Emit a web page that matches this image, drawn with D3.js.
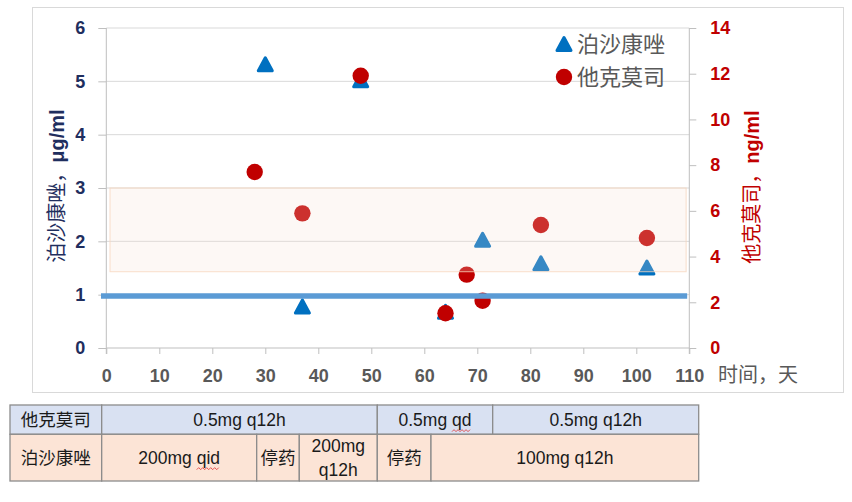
<!DOCTYPE html>
<html><head><meta charset="utf-8">
<script src="https://cdn.jsdelivr.net/npm/d3@7"></script>
<style>
html,body{margin:0;padding:0;background:#fff;}
svg{display:block;}
</style></head>
<body>
<svg id="chart" width="852" height="502"></svg>
<script>
// ---------- data ----------
const posDays = [30, 37, 48, 64, 71, 82, 102];
const posValues = [5.32, 0.78, 5.02, 0.68, 2.03, 1.59, 1.51];          // μg/ml (left axis)
const tacDays = [28, 37, 48, 64, 68, 71, 82, 102];
const tacValues = [7.7, 5.89, 11.91, 1.52, 3.21, 2.07, 5.38, 4.81];    // ng/ml (right axis)
const xTicks = [0, 10, 20, 30, 40, 50, 60, 70, 80, 90, 100, 110];
const leftTicks = [0, 1, 2, 3, 4, 5, 6];
const rightTicks = [0, 2, 4, 6, 8, 10, 12, 14];
const targetBand = [1.43, 3.0];          // shaded range, left axis
const bandDays = [0.7, 109.4];
const refLine = 0.975;                  // blue line, left axis
const refLineDays = [-1, 109.6];
const seriesNames = ["泊沙康唑", "他克莫司"];
const xTitle = "时间，天";
const leftTitle = ["泊沙康唑，", "μg/ml"];
const rightTitle = ["他克莫司，", "ng/ml"];
const tableRowLabels = ["他克莫司", "泊沙康唑"];
const tacRegimens = ["0.5mg q12h", "0.5mg qd", "0.5mg q12h"];
const posRegimens = ["200mg qid", "停药", "200mg\nq12h", "停药", "100mg q12h"];
const squiggleWords = {"0.5mg qd": "qd", "200mg qid": "qid"};

// ---------- layout ----------
const svg = d3.select("#chart");
const X0 = 106.3, X1 = 689.3, Y0 = 348, Y1 = 28;
const x = d3.scaleLinear().domain([0, 110]).range([X0, X1]);
const yL = d3.scaleLinear().domain([0, 6]).range([Y0, Y1]);
const yR = d3.scaleLinear().domain([0, 14]).range([Y0, Y1]);
const BLUE = "#0070c0", RED = "#c00000", NAVY = "#1f2e5e", GRAY = "#595959";
const CJK = "'Noto Sans CJK SC', 'Noto Sans', sans-serif";
const NUM = "'Liberation Sans', Arial, sans-serif";

// outer frame
svg.append("rect").attr("x", 32.5).attr("y", 7.5).attr("width", 811).attr("height", 385)
  .attr("fill", "none").attr("stroke", "#d9d9d9").attr("stroke-width", 1);

// gridlines
svg.append("g").selectAll("line").data(leftTicks.filter(d => d > 0)).join("line")
  .attr("x1", X0).attr("x2", X1).attr("y1", d => yL(d)).attr("y2", d => yL(d))
  .attr("stroke", "#d9d9d9").attr("stroke-width", 1);

// axes
function styleAxis(g, color, size) {
  g.select(".domain").remove();
  g.selectAll(".tick line").attr("stroke", "#bfbfbf").attr("stroke-width", 1);
  g.selectAll(".tick text").attr("fill", color).attr("font-family", NUM)
    .attr("font-weight", "bold").attr("font-size", size);
}
const gx = svg.append("g").attr("transform", `translate(0,${Y0})`)
  .call(d3.axisBottom(x).tickValues(xTicks).tickSize(6).tickPadding(15).tickFormat(d3.format("d")));
styleAxis(gx, GRAY, 18);
const gl = svg.append("g").attr("transform", `translate(${X0},0)`)
  .call(d3.axisLeft(yL).tickValues(leftTicks).tickSize(8).tickPadding(13).tickFormat(d3.format("d")));
styleAxis(gl, NAVY, 18);
const gr = svg.append("g").attr("transform", `translate(${X1},0)`)
  .call(d3.axisRight(yR).tickValues(rightTicks).tickSize(7).tickPadding(14).tickFormat(d3.format("d")));
styleAxis(gr, RED, 18);
// axis lines
svg.append("line").attr("x1", X0).attr("x2", X1).attr("y1", Y0).attr("y2", Y0).attr("stroke", "#bfbfbf");
svg.append("line").attr("x1", X0).attr("x2", X0).attr("y1", Y1).attr("y2", Y0 + 6).attr("stroke", "#bfbfbf");
svg.append("line").attr("x1", X1).attr("x2", X1).attr("y1", Y1).attr("y2", Y0 + 6).attr("stroke", "#bfbfbf");

// axis titles
svg.append("text").attr("x", 718).attr("y", 382).attr("font-family", CJK).attr("font-size", 20)
  .attr("fill", GRAY).text(xTitle);
function vTitle(cx, cy, parts, color) {
  const t = svg.append("text").attr("transform", `translate(${cx},${cy}) rotate(-90)`)
    .attr("text-anchor", "middle").attr("dy", "0.35em").attr("fill", color).attr("font-size", 20);
  t.append("tspan").attr("font-family", CJK).text(parts[0]);
  t.append("tspan").attr("font-family", NUM).attr("font-weight", "bold").text(parts[1]);
}
vTitle(57, 186, leftTitle, NAVY);
vTitle(752, 187, rightTitle, RED);

// markers
const triPath = (w, h) => `M0,${-h / 2}L${w / 2},${h / 2}L${-w / 2},${h / 2}Z`;
const posData = posDays.map((d, i) => ({d, v: posValues[i]}));
const tacData = tacDays.map((d, i) => ({d, v: tacValues[i]}));
svg.append("g").selectAll("path").data(posData).join("path")
  .attr("d", triPath(14, 13))
  .attr("transform", d => `translate(${x(d.d)},${yL(d.v)})`)
  .attr("fill", BLUE).attr("stroke", BLUE).attr("stroke-width", 3).attr("stroke-linejoin", "round");
svg.append("g").selectAll("circle").data(tacData).join("circle")
  .attr("cx", d => x(d.d)).attr("cy", d => yR(d.v)).attr("r", 8.2).attr("fill", RED);

// target band (semi-transparent overlay)
svg.append("rect")
  .attr("x", x(bandDays[0])).attr("width", x(bandDays[1]) - x(bandDays[0]))
  .attr("y", yL(targetBand[1])).attr("height", yL(targetBand[0]) - yL(targetBand[1]))
  .attr("fill", "rgb(246,222,208)").attr("fill-opacity", 0.22)
  .attr("stroke", "rgb(247,214,190)").attr("stroke-opacity", 0.8).attr("stroke-width", 1);

// reference line
svg.append("line").attr("x1", x(refLineDays[0])).attr("x2", x(refLineDays[1]))
  .attr("y1", yL(refLine)).attr("y2", yL(refLine))
  .attr("stroke", "#5b9bd5").attr("stroke-width", 5.5);

// legend
const lg = svg.append("g");
lg.append("path").attr("d", triPath(14, 13)).attr("transform", "translate(564,44)")
  .attr("fill", BLUE).attr("stroke", BLUE).attr("stroke-width", 3).attr("stroke-linejoin", "round");
lg.append("circle").attr("cx", 564).attr("cy", 77).attr("r", 8.2).attr("fill", RED);
lg.selectAll("text").data(seriesNames).join("text")
  .attr("x", 577).attr("y", (d, i) => 44 + i * 33).attr("dy", "0.36em")
  .attr("font-family", CJK).attr("font-size", 22).attr("fill", GRAY).text(d => d);

// ---------- regimen table ----------
const TX = [10, 101.7, 256.7, 299.3, 377.3, 431, 492.7, 698.7];
const TY = [405, 434.3, 481];
const row1Edges = [[TX[0], TX[1]], [TX[1], TX[4]], [TX[4], TX[6]], [TX[6], TX[7]]];
const row2Edges = [[TX[0], TX[1]], [TX[1], TX[2]], [TX[2], TX[3]], [TX[3], TX[4]], [TX[4], TX[5]], [TX[5], TX[7]]];
const rows = [
  {cells: [tableRowLabels[0], ...tacRegimens], edges: row1Edges, y0: TY[0], y1: TY[1], fill: "#d9e1f2"},
  {cells: [tableRowLabels[1], ...posRegimens], edges: row2Edges, y0: TY[1], y1: TY[2], fill: "#fce4d6"}
];
const tg = svg.append("g");
rows.forEach(r => {
  r.cells.forEach((txt, i) => {
    const [a, b] = r.edges[i];
    tg.append("rect").attr("x", a).attr("y", r.y0).attr("width", b - a).attr("height", r.y1 - r.y0)
      .attr("fill", r.fill).attr("stroke", "#8c8c8c").attr("stroke-width", 1.3);
    const lines = txt.split("\n");
    const cx = (a + b) / 2, cy = (r.y0 + r.y1) / 2;
    const lh = 24;
    lines.forEach((ln, j) => {
      const t = tg.append("text").attr("x", cx).attr("y", cy + (j - (lines.length - 1) / 2) * lh)
        .attr("dy", "0.36em").attr("text-anchor", "middle")
        .attr("font-family", /[\u4e00-\u9fff]/.test(ln) ? CJK : NUM)
        .attr("font-size", 17.5).attr("fill", "#1a1a1a").text(ln);
      const w = squiggleWords[ln];
      if (w) {
        const node = t.node();
        const start = ln.indexOf(w);
        const total = node.getComputedTextLength();
        const pre = node.getSubStringLength(0, start);
        const len = node.getSubStringLength(start, w.length);
        const sx = cx - total / 2 + pre, sy = cy + 11;
        const pts = d3.range(0, Math.floor(len / 2) + 1).map(k => [sx + k * 2, sy + (k % 2 ? -1 : 1)]);
        tg.append("path").attr("d", d3.line()(pts)).attr("fill", "none")
          .attr("stroke", "#e03030").attr("stroke-width", 0.8);
      }
    });
  });
});
</script>
</body></html>
